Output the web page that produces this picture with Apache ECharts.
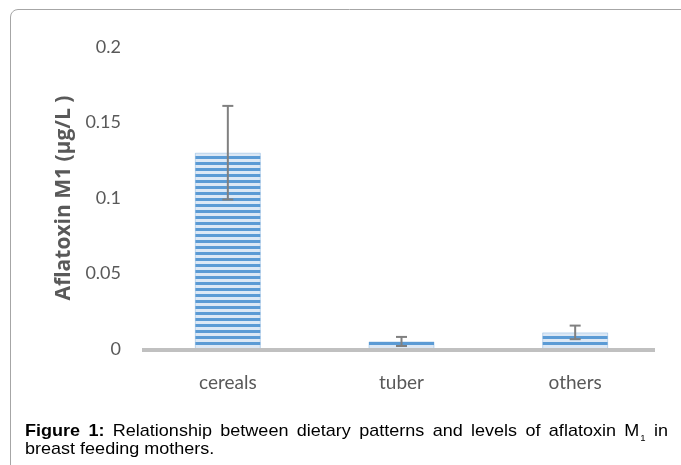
<!DOCTYPE html>
<html><head><meta charset="utf-8">
<script src="https://cdn.jsdelivr.net/npm/echarts@6/dist/echarts.min.js"></script>
<style>html,body{margin:0;padding:0;background:#fff}#c{width:681px;height:465px}</style>
</head><body><div id="c"></div>
<script>
const categories = ['cereals', 'tuber', 'others'];
const means = [0.13, 0.005, 0.011];
const errors = [0.031, 0.003, 0.0045];
const yTicks = [0, 0.05, 0.1, 0.15, 0.2];
const captionLine1 = ['Figure', '1:', 'Relationship', 'between', 'dietary', 'patterns', 'and', 'levels', 'of', 'aflatoxin', 'M', 'in'];
const captionBold = 2;
const captionLine2 = 'breast feeding mothers.';

function stripe() {
  const c = document.createElement('canvas');
  c.width = 8; c.height = 6;
  const g = c.getContext('2d');
  g.fillStyle = '#dce8f5'; g.fillRect(0, 0, 8, 6);
  g.fillStyle = '#5b9bd5'; g.fillRect(0, 0, 8, 3);
  return c;
}

const FS = 17, SX = 1.06;
const fontN = FS + 'px "Liberation Sans"', fontB = 'bold ' + FS + 'px "Liberation Sans"';
const mctx = document.createElement('canvas').getContext('2d');
function w(t, f) { mctx.font = f; return mctx.measureText(t).width * SX; }

// justified first caption line
const capLeft = 25, capRight = 668, line1Top = 423, line2Top = 441;
const subFont = '9px "Liberation Sans"';
const subW = w('1', subFont);
const widths = captionLine1.map((t, i) => w(t, i < captionBold ? fontB : fontN) + (t === 'M' ? subW + 1 : 0));
const gap = (capRight - capLeft - widths.reduce((a, b) => a + b, 0)) / (captionLine1.length - 1);
const capGraphics = [];
let cx = capLeft;
captionLine1.forEach((t, i) => {
  capGraphics.push({type: 'text', x: cx, y: line1Top, scaleX: SX,
    style: {text: t, font: i < captionBold ? fontB : fontN, fill: '#000', textVerticalAlign: 'top'}});
  if (t === 'M') {
    capGraphics.push({type: 'text', x: cx + w('M', fontN) + 1, y: line1Top + 11, scaleX: SX,
      style: {text: '1', font: subFont, fill: '#000', textVerticalAlign: 'top'}});
  }
  cx += widths[i] + gap;
});
capGraphics.push({type: 'text', x: capLeft, y: line2Top, scaleX: SX,
  style: {text: captionLine2, font: fontN, fill: '#000', textVerticalAlign: 'top'}});

const cornerPts = [[10.5, 465], [10.5, 17], [11.1, 14], [12.7, 11.7], [15, 10.1], [18, 9.5], [681, 9.5]];

const chart = echarts.init(document.getElementById('c'), null, {renderer: 'canvas'});
chart.setOption({
  animation: false,
  grid: {left: 141, top: 47, width: 521, height: 302},
  xAxis: {
    type: 'category', data: categories,
    axisLine: {show: false},
    axisTick: {show: false},
    axisLabel: {color: '#595959', fontSize: 19, fontFamily: 'Lato', margin: 24}
  },
  yAxis: {
    type: 'value', min: 0, max: 0.2, interval: 0.05,
    name: 'Aflatoxin M1 (μg/L )', nameLocation: 'middle', nameGap: 65,
    nameTextStyle: {color: '#595959', fontSize: 21, fontWeight: 'bold', fontFamily: 'Open Sans'},
    axisLine: {show: false}, axisTick: {show: false}, splitLine: {show: false},
    axisLabel: {color: '#595959', fontSize: 18, fontFamily: 'Lato', margin: 20,
      formatter: v => { const t = yTicks.find(x => Math.abs(x - v) < 1e-9); return t === undefined ? '' : String(t); }}
  },
  series: [{
    type: 'bar', data: means, barWidth: 66,
    itemStyle: {color: {image: stripe(), repeat: 'repeat'}, borderColor: 'rgba(91,155,213,0.35)', borderWidth: 1}
  }, {
    type: 'custom', z: 5,
    data: means.map((m, i) => [i, m - errors[i], m + errors[i]]),
    renderItem: (params, api) => {
      const lo = api.coord([api.value(0), api.value(1)]);
      const hi = api.coord([api.value(0), api.value(2)]);
      const x = lo[0], hw = 5.5;
      const st = {stroke: '#808080', lineWidth: 2};
      return {type: 'group', children: [
        {type: 'line', shape: {x1: x, y1: lo[1], x2: x, y2: hi[1]}, style: st},
        {type: 'line', shape: {x1: x - hw, y1: lo[1], x2: x + hw, y2: lo[1]}, style: st},
        {type: 'line', shape: {x1: x - hw, y1: hi[1], x2: x + hw, y2: hi[1]}, style: st}
      ]};
    }
  }],
  graphic: [
    {type: 'line', z: 10, shape: {x1: 142, y1: 350, x2: 655, y2: 350}, style: {stroke: '#c0c0c0', lineWidth: 4}},
    {type: 'polyline', shape: {points: cornerPts},
     style: {fill: null, stroke: '#a6a6a6', lineWidth: 1}}
  ].concat(capGraphics)
});
</script></body></html>
